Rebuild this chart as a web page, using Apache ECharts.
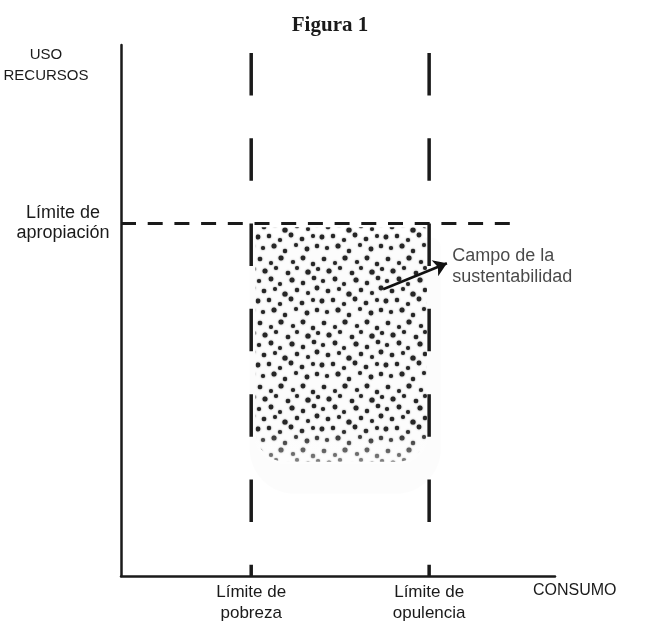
<!DOCTYPE html>
<html>
<head>
<meta charset="utf-8">
<script src="https://cdn.jsdelivr.net/npm/echarts@6/dist/echarts.min.js"></script>
<style>html,body{margin:0;padding:0;background:#fff}#c{width:660px;height:624px}</style>
</head>
<body>
<div id="c"></div>
<script>
// ---- data ----
const titleText = 'Figura 1';
const xLimitNames = ['Límite de\npobreza', 'Límite de\nopulencia'];
const xLimitValues = [3.0, 7.1];
const yLimitNames = ['Límite de\napropiación'];
const yLimitValues = [6.64];
const vLineTop = 9.85;          // top of vertical dashed limits
const hLineEnd = [9.0];         // end of horizontal dashed limit
const campoX = [3.1, 7.05];     // sustainability field extent (x)
const campoY = [2.15, 6.57];    // sustainability field extent (y)
const arrowFrom = [6.04, 5.40];
const arrowTo = [7.51, 5.89];
const campoLabelPos = [7.63, 5.83];
const campoLabel = 'Campo de la\nsustentabilidad';
const yAxisTitle = 'USO\nRECURSOS';
const xAxisTitle = 'CONSUMO';

// ---- dot texture (style only) ----
const tileDots = [
  [4,3,2.3],[15,7,2.0],[25,2,2.5],[37,6,2.1],[47,2,2.4],[57,8,2.2],
  [9,15,2.5],[20,12,2.1],[32,17,2.3],[41,12,2.0],[52,16,2.6],[62,13,2.1],
  [3,25,2.1],[15,23,2.4],[24,28,2.0],[36,24,2.5],[47,27,2.2],[58,22,2.3],
  [8,35,2.3],[19,33,2.0],[29,38,2.6],[41,34,2.2],[52,37,2.0],[61,32,2.4],
  [2,45,2.4],[13,44,2.2],[24,48,2.1],[35,43,2.4],[46,47,2.3],[57,44,2.0],
  [7,56,2.1],[18,54,2.5],[29,59,2.2],[40,53,2.0],[51,57,2.4],[61,54,2.2]
];
function makeTile() {
  const s = 64;
  const cv = document.createElement('canvas');
  cv.width = s; cv.height = s;
  const ctx = cv.getContext('2d');
  ctx.fillStyle = '#262626';
  ctx.shadowColor = 'rgba(30,30,30,0.7)';
  ctx.shadowBlur = 1.6;
  tileDots.forEach(function (d) {
    for (let ox = -s; ox <= s; ox += s) for (let oy = -s; oy <= s; oy += s) {
      ctx.beginPath();
      ctx.arc(d[0] + ox, d[1] + oy, d[2], 0, Math.PI * 2);
      ctx.fill();
    }
  });
  return cv;
}
const tile = makeTile();

const FONT = "'Liberation Sans', Arial, sans-serif";
const INK = '#1a1a1a';

const chart = echarts.init(document.getElementById('c'), null, {renderer: 'canvas'});

const series = [];

// sustainability field
series.push({
  type: 'custom',
  clip: false,
  z: 1,
  data: [[campoX[0], campoY[0]]],
  renderItem: function (params, api) {
    const p0 = api.coord([campoX[0], campoY[1]]);
    const p1 = api.coord([campoX[1], campoY[0]]);
    const w = p1[0] - p0[0], h = p1[1] - p0[1];
    return {
      type: 'group',
      children: [
        {type: 'rect', shape: {x: p0[0] - 6, y: p0[1] + 10, width: w + 20, height: h + 22, r: [10, 10, 45, 45]},
         style: {fill: 'rgba(0,0,0,0.012)', shadowBlur: 16, shadowColor: 'rgba(0,0,0,0.03)'}},
        {type: 'rect', shape: {x: p0[0], y: p0[1], width: w, height: h, r: [3, 3, 30, 30]},
         style: {fill: {image: tile, repeat: 'repeat'}}},
        {type: 'rect', shape: {x: p0[0] - 2, y: p0[1], width: w + 4, height: h + 2, r: [3, 3, 30, 30]},
         style: {fill: new echarts.graphic.LinearGradient(0, 0, 0, 1, [
           {offset: 0, color: 'rgba(255,255,255,0)'},
           {offset: 0.85, color: 'rgba(255,255,255,0)'},
           {offset: 1, color: 'rgba(255,255,255,0.45)'}])}}
      ]
    };
  }
});

// vertical dashed limits
xLimitValues.forEach(function (v) {
  series.push({
    type: 'line', symbol: 'none', silent: true, z: 3,
    data: [[v, vLineTop], [v, 0]],
    lineStyle: {color: INK, width: 3.5, type: [42.5, 42.8]}
  });
});

// horizontal dashed limit
yLimitValues.forEach(function (v, i) {
  series.push({
    type: 'line', symbol: 'none', silent: true, z: 3,
    data: [[0, v], [hLineEnd[i], v]],
    lineStyle: {color: INK, width: 3, type: [15, 11.7]}
  });
});

// arrow
series.push({
  type: 'lines',
  coordinateSystem: 'cartesian2d',
  z: 5,
  symbol: ['none', 'arrow'],
  symbolSize: 13,
  lineStyle: {color: '#111', width: 2.5, opacity: 1, curveness: 0},
  data: [{coords: [arrowFrom, arrowTo]}]
});

// field label
series.push({
  type: 'scatter',
  symbolSize: 0,
  z: 5,
  data: [campoLabelPos],
  label: {
    show: true, position: 'right', distance: 0,
    formatter: campoLabel, color: INK, fontFamily: FONT, fontSize: 18, lineHeight: 21, align: 'left'
  }
});

chart.setOption({
  animation: false,
  backgroundColor: '#fff',
  title: {
    text: titleText, left: 'center', top: 10,
    textStyle: {fontFamily: "'Liberation Serif', 'Times New Roman', serif", fontWeight: 'bold', fontSize: 21, color: INK}
  },
  grid: {left: 121, right: 105, top: 45, bottom: 46},
  xAxis: {
    type: 'value', min: 0, max: 10,
    splitLine: {show: false},
    axisTick: {show: false},
    axisLine: {show: true, lineStyle: {color: INK, width: 2.5}},
    axisLabel: {
      customValues: xLimitValues,
      formatter: function (v) { return xLimitNames[xLimitValues.indexOf(v)] || ''; },
      margin: 6, color: INK, fontFamily: FONT, fontSize: 17, lineHeight: 21
    }
  },
  yAxis: {
    type: 'value', min: 0, max: 10,
    splitLine: {show: false},
    axisTick: {show: false},
    axisLine: {show: true, lineStyle: {color: INK, width: 2.5}},
    axisLabel: {
      customValues: yLimitValues,
      formatter: function (v) { return yLimitNames[yLimitValues.indexOf(v)] || ''; },
      margin: 58, align: 'center', color: INK, fontFamily: FONT, fontSize: 18, lineHeight: 20
    }
  },
  graphic: [
    {type: 'text', x: 46, y: 44, style: {text: yAxisTitle, fill: INK, font: '15px ' + FONT, lineHeight: 21, align: 'center', verticalAlign: 'top'}},
    {type: 'text', x: 533, y: 583, style: {text: xAxisTitle, fill: INK, font: '16px ' + FONT, verticalAlign: 'top'}}
  ],
  series: series
});
</script>
</body>
</html>
